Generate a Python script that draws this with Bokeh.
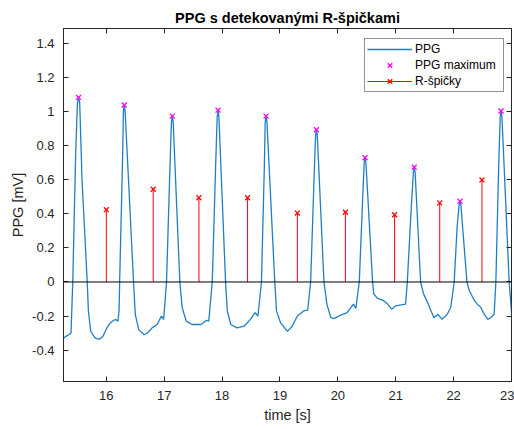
from bokeh.plotting import figure
from bokeh.models import (Range1d, LinearAxis, FixedTicker, Legend, LegendItem, Span,
                          ColumnDataSource, CustomLabelingPolicy)
from bokeh.embed import file_html
from bokeh.resources import INLINE

# PPG waveform (time [s], value [mV])
ppg_t = [15.26, 15.30, 15.35, 15.39, 15.42, 15.47, 15.50, 15.52, 15.54, 15.58, 15.67, 15.69, 15.73, 15.81, 15.88, 15.94,
         16.01, 16.07, 16.13, 16.16, 16.20, 16.22, 16.23, 16.28, 16.295, 16.31, 16.325, 16.47, 16.50, 16.56, 16.65, 16.71,
         16.79, 16.88, 16.95, 16.99, 17.04, 17.10, 17.125, 17.14, 17.155, 17.27, 17.31, 17.38, 17.48, 17.57, 17.63, 17.68,
         17.73, 17.77, 17.83, 17.89, 17.915, 17.93, 17.945, 18.06, 18.09, 18.15, 18.26, 18.38, 18.49, 18.57, 18.62, 18.68,
         18.73, 18.745, 18.76, 18.775, 18.91, 18.94, 19.01, 19.13, 19.21, 19.30, 19.41, 19.48, 19.53, 19.59, 19.615, 19.63,
         19.645, 19.76, 19.81, 19.88, 19.93, 20.05, 20.16, 20.27, 20.31, 20.37, 20.43, 20.455, 20.47, 20.485, 20.60, 20.62,
         20.68, 20.79, 20.86, 20.93, 21.00, 21.09, 21.17, 21.20, 21.27, 21.305, 21.32, 21.335, 21.43, 21.48, 21.55, 21.61,
         21.66, 21.73, 21.80, 21.89, 21.95, 22.01, 22.06, 22.095, 22.11, 22.125, 22.23, 22.27, 22.36, 22.41, 22.47, 22.53,
         22.59, 22.64, 22.70, 22.73, 22.78, 22.805, 22.82, 22.835, 22.96, 23.02]
ppg_v = [-0.33, -0.32, -0.31, -0.30, 0.0, 0.75, 1.05, 1.085, 1.05, 0.6, 0.0, -0.17, -0.29, -0.33, -0.337, -0.32,
         -0.27, -0.24, -0.225, -0.22, -0.23, -0.17, 0.0, 0.72, 1.0, 1.04, 1.0, 0.0, -0.19, -0.28, -0.31, -0.30,
         -0.27, -0.25, -0.20, -0.22, 0.0, 0.68, 0.94, 0.975, 0.94, 0.0, -0.15, -0.23, -0.25, -0.25, -0.25, -0.24,
         -0.225, -0.23, 0.0, 0.70, 0.97, 1.01, 0.97, 0.0, -0.17, -0.25, -0.27, -0.26, -0.22, -0.18, -0.20, 0.0,
         0.68, 0.94, 0.975, 0.94, 0.0, -0.17, -0.24, -0.29, -0.26, -0.20, -0.17, -0.165, 0.0, 0.62, 0.86, 0.895,
         0.86, 0.0, -0.13, -0.21, -0.215, -0.195, -0.18, -0.13, -0.155, 0.0, 0.50, 0.70, 0.73, 0.70, 0.0, -0.07,
         -0.095, -0.11, -0.13, -0.16, -0.14, -0.135, -0.13, 0.0, 0.45, 0.645, 0.675, 0.645, 0.0, -0.07, -0.12, -0.17,
         -0.21, -0.19, -0.22, -0.19, -0.15, 0.0, 0.32, 0.455, 0.475, 0.455, 0.0, -0.05, -0.11, -0.13, -0.15, -0.19,
         -0.22, -0.21, -0.19, 0.0, 0.70, 0.97, 1.005, 0.97, 0.0, -0.27]

# PPG maxima
peak_t = [15.52, 16.31, 17.14, 17.93, 18.76, 19.63, 20.47, 21.32, 22.11, 22.82]
peak_v = [1.085, 1.04, 0.975, 1.01, 0.975, 0.895, 0.73, 0.675, 0.475, 1.005]

# R peaks
r_t = [16.00, 16.81, 17.60, 18.44, 19.30, 20.13, 20.98, 21.76, 22.49]
r_v = [0.425, 0.545, 0.495, 0.495, 0.405, 0.41, 0.395, 0.465, 0.60]

x_ticks = [16, 17, 18, 19, 20, 21, 22, 23]
y_ticks = [-0.4, -0.2, 0, 0.2, 0.4, 0.6, 0.8, 1.0, 1.2, 1.4]
y_labels = ["-0.4", "-0.2", "0", "0.2", "0.4", "0.6", "0.8", "1", "1.2", "1.4"]
x_start, x_end = 15.26, 23.0
y_start, y_end = -0.585, 1.49

FONT = "Liberation Sans"
AX = "#262626"

p = figure(width=514, height=429, output_backend="svg", toolbar_location=None,
           x_range=Range1d(x_start, x_end), y_range=Range1d(y_start, y_end),
           min_border_left=63, min_border_right=3, min_border_top=28, min_border_bottom=48,
           title="PPG s detekovanými R-špičkami")
p.title.align = "center"
p.title.text_font = FONT
p.title.text_font_size = "14.5px"
p.title.text_font_style = "bold"
p.title.text_color = "#000000"
p.title.standoff = 6
p.grid.visible = False
p.outline_line_color = AX
p.outline_line_width = 1
p.background_fill_color = "white"
p.border_fill_color = "white"

def style_axis(ax, labels=True):
    ax.axis_line_color = AX
    ax.major_tick_line_color = AX
    ax.major_tick_in = 5
    ax.major_tick_out = 0
    ax.minor_tick_line_color = None
    ax.major_label_text_font = FONT
    ax.major_label_text_font_size = "13px"
    ax.major_label_text_color = AX
    ax.axis_label_text_font = FONT
    ax.axis_label_text_font_size = "14.5px"
    ax.axis_label_text_font_style = "normal"
    ax.axis_label_text_color = AX
    if not labels:
        ax.major_label_standoff = 0
        ax.major_label_policy = CustomLabelingPolicy(code="""
            for (const i of indices) indices.unset(i)
            return indices
        """)

p.xaxis.ticker = FixedTicker(ticks=x_ticks)
p.yaxis.ticker = FixedTicker(ticks=y_ticks)
p.yaxis.major_label_overrides = {t: l for t, l in zip(y_ticks, y_labels)}
p.xaxis.major_label_overrides = {t: str(t) for t in x_ticks}
style_axis(p.xaxis[0])
style_axis(p.yaxis[0])
p.xaxis.axis_label = "time [s]"
p.yaxis.axis_label = "PPG [mV]"
p.xaxis.major_label_standoff = 9
p.yaxis.major_label_standoff = 9
p.xaxis.axis_label_standoff = 4
p.yaxis.axis_label_standoff = 3

# box ticks on the top and right edges (no labels, no extra space)
top = LinearAxis(ticker=FixedTicker(ticks=x_ticks), fixed_location=y_end)
right = LinearAxis(ticker=FixedTicker(ticks=y_ticks), fixed_location=x_end)
style_axis(top, labels=False)
style_axis(right, labels=False)
p.add_layout(top, "above")
p.add_layout(right, "right")

p.add_layout(Span(location=0, dimension="width", line_color="#000000", line_width=1))

ppg_src = ColumnDataSource(dict(t=ppg_t, v=ppg_v))
pk_src = ColumnDataSource(dict(t=peak_t, v=peak_v))
r_src = ColumnDataSource(dict(t=r_t, v=r_v, z=[0] * len(r_t)))

ln = p.line("t", "v", source=ppg_src, line_color="#1f7fc4", line_width=1.3)
stems = p.segment(x0="t", y0="z", x1="t", y1="v", source=r_src, line_color="#FF0000", line_width=1)
rx = p.scatter("t", "v", source=r_src, marker="x", size=7, line_color="#FF0000", line_width=1.3)
pk = p.scatter("t", "v", source=pk_src, marker="x", size=7, line_color="#FF00FF", line_width=1.3)

legend = Legend(items=[
    LegendItem(label="PPG", renderers=[ln]),
    LegendItem(label="PPG maximum", renderers=[pk]),
    LegendItem(label="R-špičky", renderers=[stems, rx]),
], location=(301, 289))
legend.label_text_font = FONT
legend.label_text_font_size = "12px"
legend.label_text_color = "#000000"
legend.glyph_width = 45
legend.glyph_height = 16
legend.label_height = 16
legend.label_width = 86
legend.label_standoff = 3
legend.spacing = 0
legend.padding = 2
legend.margin = 0
legend.border_line_color = AX
legend.border_line_width = 1
legend.background_fill_color = "white"
legend.background_fill_alpha = 1
p.add_layout(legend)

open("out.html", "w").write(file_html(p, INLINE))
